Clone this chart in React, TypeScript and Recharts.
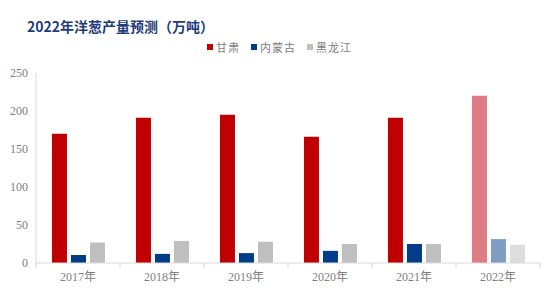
import React from 'react';
import { BarChart, Bar, XAxis, YAxis, Legend, Cell } from 'recharts';

const years = ['2017年', '2018年', '2019年', '2020年', '2021年', '2022年'];
const gansu = [170, 191, 195, 166, 191, 220];
const neimenggu = [10.5, 12, 13, 16, 25, 31.5];
const heilongjiang = [27, 29, 28, 25, 25, 24];
const yTicks = [0, 50, 100, 150, 200, 250];

const series = [
  { key: 'gansu', name: '甘肃', color: '#C00000', light: '#DE7E84' },
  { key: 'neimenggu', name: '内蒙古', color: '#003C87', light: '#819DC4' },
  { key: 'heilongjiang', name: '黑龙江', color: '#BFBFBF', light: '#DDDDDD' },
];

const data = years.map((year, i) => ({
  year,
  gansu: gansu[i],
  neimenggu: neimenggu[i],
  heilongjiang: heilongjiang[i],
}));

const W = 554;
const H = 295;
const LEFT = 36;
const RIGHT = 14;
const band = (W - LEFT - RIGHT) / years.length;
const axisColor = '#D9D9D9';
const tickFont = "'Liberation Serif', 'Noto Sans CJK SC', serif";

const XTick = (props: any) => {
  const { x, y, payload, index } = props;
  const left = x - band / 2;
  return (
    <g>
      <line x1={left} y1={y - 8} x2={left} y2={y - 3} stroke={axisColor} />
      {index === years.length - 1 && (
        <line x1={x + band / 2} y1={y - 8} x2={x + band / 2} y2={y - 3} stroke={axisColor} />
      )}
      <text x={x} y={y + 10} textAnchor="middle" fill="#808080" fontSize={12} fontFamily={tickFont}>
        {payload.value}
      </text>
    </g>
  );
};

const LegendContent = () => (
  <div style={{ display: 'flex', fontSize: 11, lineHeight: '14px', color: '#808080', fontFamily: "'Noto Sans CJK SC', sans-serif" }}>
    {series.map(s => (
      <div key={s.key} style={{ display: 'flex', alignItems: 'center', marginRight: 11 }}>
        <span style={{ width: 6, height: 6, background: s.color, display: 'inline-block', marginRight: 3 }} />
        <span style={{ letterSpacing: 1 }}>{s.name}</span>
      </div>
    ))}
  </div>
);

export default function App() {
  return (
    <div style={{ position: 'absolute', left: 0, top: 0, width: W, height: H, background: '#fff' }}>
      <div
        style={{
          position: 'absolute',
          left: 27,
          top: 16,
          fontSize: 14,
          fontWeight: 'bold',
          color: '#1F3C7A',
          fontFamily: "'Noto Sans CJK SC', sans-serif",
          zIndex: 2,
        }}
      >
        2022年洋葱产量预测（万吨）
      </div>
      <BarChart
        width={W}
        height={H}
        data={data}
        margin={{ top: 59, right: RIGHT, bottom: 0, left: 0 }}
        barCategoryGap="19%"
        barGap={4}
      >
        <Legend
          verticalAlign="top"
          content={LegendContent}
          wrapperStyle={{ position: 'absolute', top: 40, left: 207, width: 'auto', height: 14 }}
        />
        <XAxis
          dataKey="year"
          axisLine={{ stroke: axisColor }}
          tickLine={false}
          tick={<XTick />}
          interval={0}
          height={32}
        />
        <YAxis
          domain={[0, 250]}
          ticks={yTicks}
          width={LEFT}
          axisLine={{ stroke: axisColor }}
          tickLine={false}
          tick={{ fill: '#808080', fontSize: 12, fontFamily: tickFont }}
        />
        {series.map(s => (
          <Bar key={s.key} dataKey={s.key} name={s.name} fill={s.color} isAnimationActive={false}>
            {data.map((_, i) => (
              <Cell key={i} fill={i === years.length - 1 ? s.light : s.color} />
            ))}
          </Bar>
        ))}
      </BarChart>
    </div>
  );
}
